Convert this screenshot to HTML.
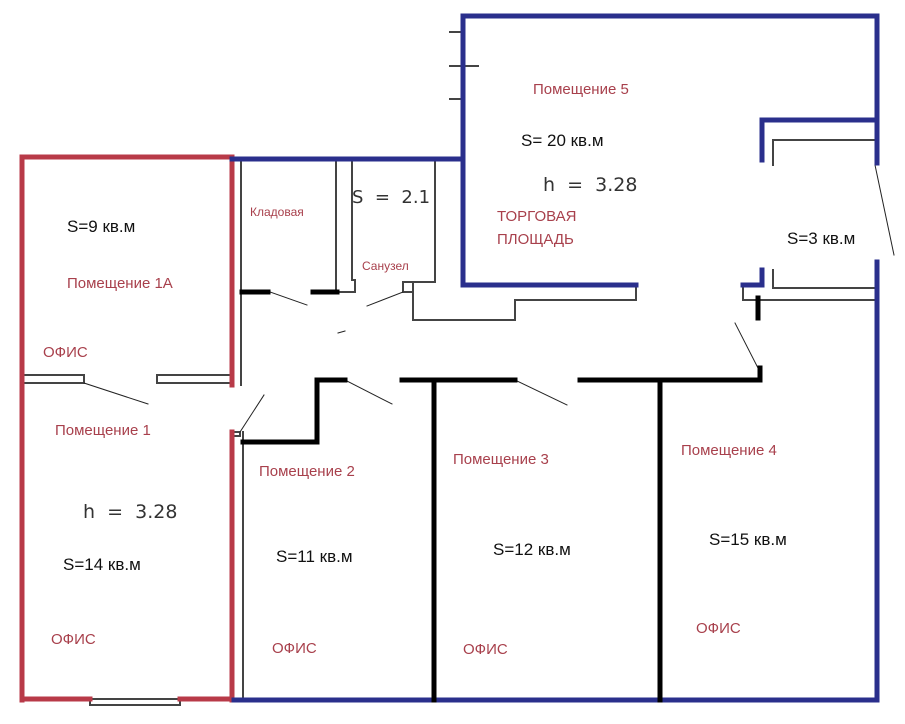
<!DOCTYPE html>
<html><head><meta charset="utf-8"><style>
html,body{margin:0;padding:0;background:#fff;}
svg{display:block}
.r{fill:#a8404c;font-family:"Liberation Sans",sans-serif;font-size:15px}
.k{fill:#111;font-family:"Liberation Sans",sans-serif;font-size:17px}
.m{fill:#333;font-family:"DejaVu Sans",sans-serif;font-size:19px;white-space:pre}
</style></head><body>
<svg width="905" height="724" viewBox="0 0 905 724">
<g fill="none" stroke-linecap="square">
<g stroke="#444" stroke-width="2">
<line x1="241" y1="160" x2="241" y2="385"/>
<line x1="243" y1="432" x2="243" y2="700"/>
<line x1="336" y1="160" x2="336" y2="292"/>
<line x1="352" y1="160" x2="352" y2="280"/>
<polyline points="352,280 355,280 355,292 338,292"/>
<line x1="435" y1="160" x2="435" y2="282"/>
<polyline points="435,282 413,282 413,320 515,320 515,300 636,300 636,287"/>
<rect x="403" y="282" width="10" height="10"/>
<polyline points="773,165 773,140 875,140"/>
<polyline points="773,270 773,288 875,288"/>
<polyline points="743,288 743,300 875,300"/>
<rect x="22" y="375" width="62" height="8"/>
<rect x="157" y="375" width="75" height="8"/>
<rect x="90" y="699" width="90" height="6"/>
<rect x="232" y="432" width="8" height="4"/>
<line x1="450" y1="32" x2="463" y2="32"/>
<line x1="450" y1="66" x2="478" y2="66"/>
<line x1="450" y1="99" x2="463" y2="99"/>
</g>
<g stroke="#222" stroke-width="1">
<line x1="270" y1="292" x2="307" y2="305"/>
<line x1="403" y1="292" x2="367" y2="306"/>
<line x1="338" y1="333" x2="345" y2="331"/>
<line x1="84" y1="383" x2="148" y2="404"/>
<line x1="240" y1="432" x2="264" y2="395"/>
<line x1="345" y1="380" x2="392" y2="404"/>
<line x1="515" y1="380" x2="567" y2="405"/>
<line x1="758" y1="368" x2="735" y2="323"/>
<line x1="875" y1="165" x2="894" y2="255"/>
</g>
<g stroke="#b83a48" stroke-width="5">
<polyline points="22,700 22,157 232,157 232,385"/>
<line x1="232" y1="432" x2="232" y2="700"/>
<line x1="22" y1="699" x2="90" y2="699"/>
<line x1="180" y1="699" x2="232" y2="699"/>
</g>
<g stroke="#2a2f8c" stroke-width="5">
<polyline points="232,159 463,159 463,16 877,16 877,163"/>
<polyline points="463,159 463,285 636,285"/>
<polyline points="762,160 762,120 877,120"/>
<line x1="877" y1="262" x2="877" y2="700"/>
<line x1="234" y1="700" x2="877" y2="700"/>
<polyline points="743,285 762,285 762,270"/>
</g>
<g stroke="#000" stroke-width="5">
<line x1="242" y1="292" x2="268" y2="292"/>
<line x1="313" y1="292" x2="337" y2="292"/>
<polyline points="243,442 317,442 317,380 345,380"/>
<line x1="402" y1="380" x2="515" y2="380"/>
<polyline points="580,380 760,380 760,368"/>
<line x1="434" y1="380" x2="434" y2="700"/>
<line x1="660" y1="380" x2="660" y2="700"/>
<line x1="758" y1="298" x2="758" y2="318"/>
</g>
</g>
<text class="k" x="67" y="232">S=9 кв.м</text>
<text class="r" x="67" y="288">Помещение 1А</text>
<text class="r" x="43" y="357">ОФИС</text>
<text class="r" x="250" y="216" style="font-size:12px">Кладовая</text>
<text class="m" x="352" y="203" style="font-size:18px">S  =  2.1</text>
<text class="r" x="362" y="270" style="font-size:12px">Санузел</text>
<text class="r" x="533" y="94">Помещение 5</text>
<text class="k" x="521" y="146">S= 20 кв.м</text>
<text class="m" x="543" y="191">h  =  3.28</text>
<text class="r" x="497" y="221">ТОРГОВАЯ</text>
<text class="r" x="497" y="244">ПЛОЩАДЬ</text>
<text class="k" x="787" y="244">S=3 кв.м</text>
<text class="r" x="55" y="435">Помещение 1</text>
<text class="m" x="83" y="518">h  =  3.28</text>
<text class="k" x="63" y="570">S=14 кв.м</text>
<text class="r" x="51" y="644">ОФИС</text>
<text class="r" x="259" y="476">Помещение 2</text>
<text class="k" x="276" y="562">S=11 кв.м</text>
<text class="r" x="272" y="653">ОФИС</text>
<text class="r" x="453" y="464">Помещение 3</text>
<text class="k" x="493" y="555">S=12 кв.м</text>
<text class="r" x="463" y="654">ОФИС</text>
<text class="r" x="681" y="455">Помещение 4</text>
<text class="k" x="709" y="545">S=15 кв.м</text>
<text class="r" x="696" y="633">ОФИС</text>
</svg>
</body></html>
